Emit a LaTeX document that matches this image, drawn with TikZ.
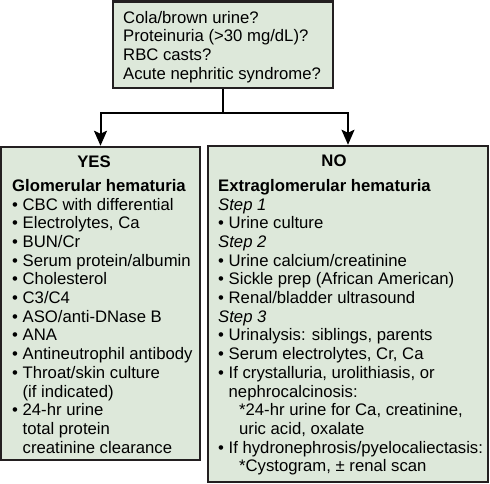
\documentclass[tikz,border=0pt]{standalone}
\usepackage{fontspec}
\setmainfont{Liberation Sans}
\usetikzlibrary{arrows.meta, positioning}
\definecolor{boxfill}{RGB}{221,232,218}
\definecolor{boxline}{RGB}{35,31,32}
\newcommand{\bul}{\textbullet\ }
\newcommand{\bulind}{\hphantom{\textbullet\ }}

\begin{document}
\begin{tikzpicture}[x=1pt, y=-1pt,
    panel/.style={draw=boxline, fill=boxfill, line width=2.5pt, inner sep=0pt},
    listtext/.style={anchor=north west, inner sep=0pt, align=left, font=\fontsize{16.7}{18.7}\selectfont},
    heading/.style={inner sep=0pt, font=\fontsize{16.7}{18.7}\selectfont\bfseries},
    link/.style={line width=2pt, draw=black}]
    \useasboundingbox (0,0) rectangle (490,483);
    % boxes
    \node[panel, minimum width=220pt, minimum height=86.5pt] (q) at (223,44.8) {};
    \node[panel, minimum width=199pt, minimum height=313pt] (yes) at (100.5,303.5) {};
    \node[panel, minimum width=280pt, minimum height=336pt] (no) at (348,314) {};

    % question
    \node[listtext] (qtext) at (123,10.7) {Cola/brown urine?\\Proteinuria (>30 mg/dL)?\\RBC casts?\\Acute nephritic syndrome?};

    % yes branch
    \node[heading] (yeshead) at (94,162) {YES};
    \node[listtext] (yeslist) at (12,179) {\textbf{Glomerular hematuria}\\
        \bul CBC with differential\\
        \bul Electrolytes, Ca\\
        \bul BUN/Cr\\
        \bul Serum protein/albumin\\
        \bul Cholesterol\\
        \bul C3/C4\\
        \bul ASO/anti-DNase B\\
        \bul ANA\\
        \bul Antineutrophil antibody\\
        \bul Throat/skin culture\\
        \bulind(if indicated)\\
        \bul 24-hr urine\\
        \bulind total protein\\
        \bulind creatinine clearance};

    % no branch
    \node[heading] (nohead) at (334,161) {NO};
    \node[listtext] (nolist) at (218,179) {\textbf{Extraglomerular hematuria}\\
        \textit{Step 1}\\
        \bul Urine culture\\
        \textit{Step 2}\\
        \bul Urine calcium/creatinine\\
        \bul Sickle prep (African American)\\
        \bul Renal/bladder ultrasound\\
        \textit{Step 3}\\
        \bul Urinalysis: siblings, parents\\
        \bul Serum electrolytes, Cr, Ca\\
        \bul If crystalluria, urolithiasis, or\\
        \bulind nephrocalcinosis:\\
        \bulind\bulind *24-hr urine for Ca, creatinine,\\
        \bulind\bulind uric acid, oxalate\\
        \bul If hydronephrosis/pyelocaliectasis:\\
        \bulind\bulind *Cystogram, ± renal scan};

    % connectors
    \coordinate (split) at (q.south |- 0,113);
    \draw[link] (q.south) -- (split);
    \draw[link, -{Stealth[length=15pt, width=13pt, inset=3pt]}] (split) -| (yes.north);
    \draw[link, -{Stealth[length=15pt, width=13pt, inset=3pt]}] (split) -| (no.north);
\end{tikzpicture}
\end{document}
